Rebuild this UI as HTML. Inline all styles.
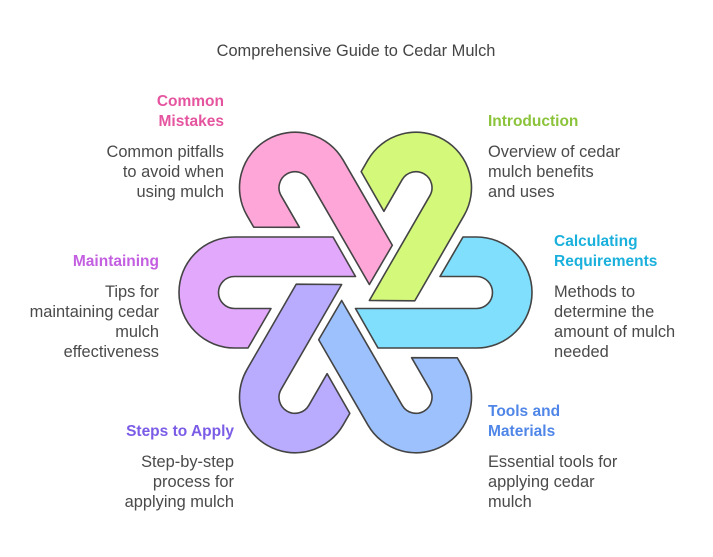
<!DOCTYPE html>
<html><head><meta charset="utf-8"><style>
html,body{margin:0;padding:0;background:#fff;}
svg text{font-family:"Liberation Sans",sans-serif;}
.h{font-weight:bold;font-size:15.5px;}
.b{font-size:16.4px;fill:#4a4a4a;}
</style></head><body>
<svg width="713" height="552" viewBox="0 0 713 552" xmlns="http://www.w3.org/2000/svg">
<rect width="713" height="552" fill="#fff"/>
<text x="356" y="56" text-anchor="middle" style="font-size:16.4px" fill="#444">Comprehensive Guide to Cedar Mulch</text>
<defs>
<path id="p" d="M107.5 -55.5 L121 -55.5 A55.5 55.5 0 0 1 121 55.5 L22.5 55.5 L0 16 L121 16 A16 16 0 0 0 121 -16 L84.5 -16 Z"/>
</defs>
<g transform="translate(355.5,292.5)" stroke="#444" stroke-width="1.6" stroke-linejoin="round">
<use href="#p" fill="#7fdffc"/>
<use href="#p" fill="#d4f87a" transform="rotate(-60)"/>
<use href="#p" fill="#ffa6d8" transform="rotate(-120)"/>
<use href="#p" fill="#e2a8fb" transform="rotate(180)"/>
<use href="#p" fill="#b9abfe" transform="rotate(120)"/>
<use href="#p" fill="#9dc1fc" transform="rotate(60)"/>
</g>
<g text-anchor="end">
<text class="h" x="224" y="106" fill="#e5559f">Common</text>
<text class="h" x="224" y="126" fill="#e5559f">Mistakes</text>
<text class="b" x="224" y="157">Common pitfalls</text>
<text class="b" x="224" y="177">to avoid when</text>
<text class="b" x="224" y="197">using mulch</text>
<text class="h" x="159" y="266" fill="#c35fe0">Maintaining</text>
<text class="b" x="159" y="297">Tips for</text>
<text class="b" x="159" y="317">maintaining cedar</text>
<text class="b" x="159" y="337">mulch</text>
<text class="b" x="159" y="357">effectiveness</text>
<text class="h" x="234" y="436" fill="#7b5ce6">Steps to Apply</text>
<text class="b" x="234" y="467">Step-by-step</text>
<text class="b" x="234" y="487">process for</text>
<text class="b" x="234" y="507">applying mulch</text>
</g>
<g>
<text class="h" x="488" y="126" fill="#8bc33a">Introduction</text>
<text class="b" x="488" y="157">Overview of cedar</text>
<text class="b" x="488" y="177">mulch benefits</text>
<text class="b" x="488" y="197">and uses</text>
<text class="h" x="554" y="246" fill="#1ab0dc">Calculating</text>
<text class="h" x="554" y="266" fill="#1ab0dc">Requirements</text>
<text class="b" x="554" y="297">Methods to</text>
<text class="b" x="554" y="317">determine the</text>
<text class="b" x="554" y="337">amount of mulch</text>
<text class="b" x="554" y="357">needed</text>
<text class="h" x="488" y="416" fill="#4f86e8">Tools and</text>
<text class="h" x="488" y="436" fill="#4f86e8">Materials</text>
<text class="b" x="488" y="467">Essential tools for</text>
<text class="b" x="488" y="487">applying cedar</text>
<text class="b" x="488" y="507">mulch</text>
</g>
</svg>
</body></html>
